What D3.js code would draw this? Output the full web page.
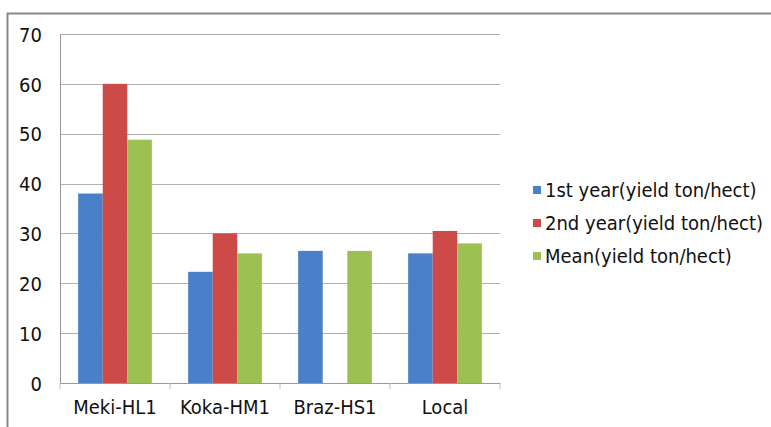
<!DOCTYPE html>
<html>
<head>
<meta charset="utf-8">
<script src="https://cdn.jsdelivr.net/npm/d3@7"></script>
<style>
body{margin:0;background:#fff;}
text{font-family:"DejaVu Sans Condensed","DejaVu Sans",sans-serif;}
</style>
</head>
<body>
<script>
var canvaswidth=771;
var canvasheight=427;

var categories=["Meki-HL1","Koka-HM1","Braz-HS1","Local"];
var seriesnames=["1st year(yield ton/hect)","2nd year(yield ton/hect)","Mean(yield ton/hect)"];
var firstyear=[38,22.3,26.5,26];
var secondyear=[60,30,0,30.5];
var meanyield=[48.8,26,26.5,28];
var yticks=[0,10,20,30,40,50,60,70];
var colors=["#4a80c8","#cc4a48","#9cc052"];

var values=[firstyear,secondyear,meanyield];

var svg=d3.select("body").append("svg").attr("width",canvaswidth).attr("height",canvasheight);

// outer frame (only top and left edges are visible in the picture)
svg.append("line").attr("x1",7).attr("x2",canvaswidth).attr("y1",13.5).attr("y2",13.5).attr("stroke","#888").attr("stroke-width",2);
svg.append("line").attr("x1",7.5).attr("x2",7.5).attr("y1",13).attr("y2",canvasheight).attr("stroke","#888").attr("stroke-width",2);

var x=d3.scaleBand().domain(categories).range([60,500]).paddingInner(0.33).paddingOuter(0.165);
var xs=d3.scaleBand().domain([0,1,2]).range([0,x.bandwidth()]);
var y=d3.scaleLinear().domain([0,70]).range([383,34]);

// gridlines
svg.selectAll(".grid").data(yticks.filter(function(d){return d>0;})).enter().append("line")
	.attr("x1",60).attr("x2",500).attr("y1",function(d){return Math.round(y(d))+0.5;}).attr("y2",function(d){return Math.round(y(d))+0.5;})
	.attr("stroke","#b0b0b0").attr("stroke-width",1);

// bars
values.forEach(function(series,si) {
	svg.selectAll(".bar"+si).data(series).enter().append("rect")
		.attr("x",function(d,i){return x(categories[i])+xs(si);})
		.attr("width",xs.bandwidth())
		.attr("y",function(d){return y(d);})
		.attr("height",function(d){return y(0)-y(d);})
		.attr("fill",colors[si]);
});

// y axis
var yaxis=svg.append("g").attr("transform","translate(60,0)").call(d3.axisLeft(y).tickValues(yticks).tickSize(0).tickPadding(18));
yaxis.select(".domain").attr("stroke","#999");
yaxis.selectAll("text").attr("font-size",20).attr("fill","#111").attr("dy","0.36em");

// x axis
var xaxis=svg.append("g").attr("transform","translate(0,383)").call(d3.axisBottom(x).tickSize(0).tickPadding(17));
xaxis.select(".domain").attr("stroke","#999");
xaxis.selectAll("text").attr("font-size",20).attr("fill","#111");
svg.selectAll(".xtick").data(d3.range(categories.length+1)).enter().append("line")
	.attr("x1",function(d){return 60+d*x.step();}).attr("x2",function(d){return 60+d*x.step();})
	.attr("y1",383).attr("y2",389).attr("stroke","#bbb");

// legend
var legend=svg.selectAll(".legend").data(seriesnames).enter().append("g")
	.attr("transform",function(d,i){return "translate(533,"+(190+i*33)+")";});
legend.append("rect").attr("x",0).attr("y",-4).attr("width",8).attr("height",8).attr("fill",function(d,i){return colors[i];});
legend.append("text").attr("x",12).attr("y",0).attr("dy","0.36em").attr("font-size",20).attr("fill","#111").text(function(d){return d;});
</script>
</body>
</html>
